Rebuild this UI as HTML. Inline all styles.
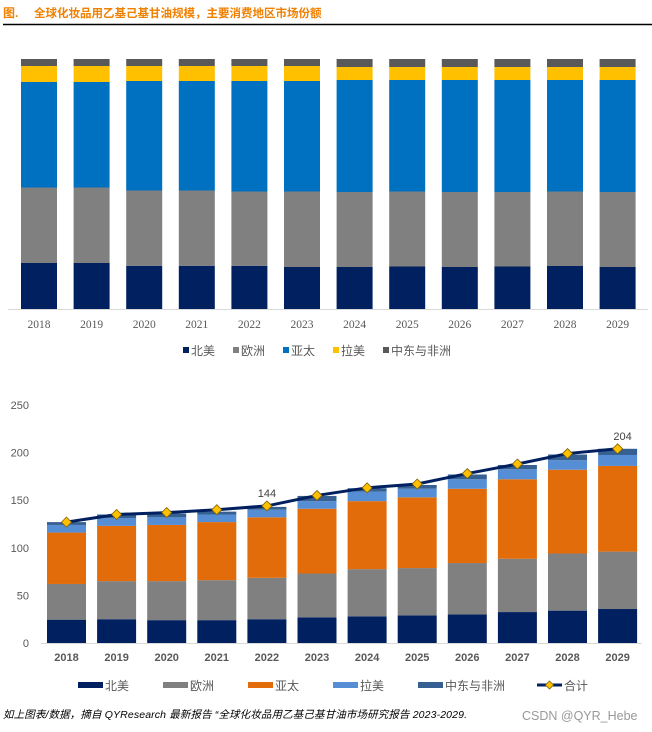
<!DOCTYPE html>
<html><head><meta charset="utf-8"><style>
body{margin:0;width:652px;height:732px;background:#fff;overflow:hidden;font-family:"Liberation Sans","Noto Sans CJK SC",sans-serif;}
svg{position:absolute;left:0;top:0}
</style></head><body>
<svg id="s" width="652" height="732">
<text x="3" y="17" font-size="12" font-weight="bold" fill="#f08000" font-family="Liberation Sans,Noto Sans CJK SC,sans-serif">图.</text>
<text x="34" y="17" font-size="11.5" font-weight="bold" fill="#f08000" font-family="Liberation Sans,Noto Sans CJK SC,sans-serif">全球化妆品用乙基己基甘油规模，主要消费地区市场份额</text>
<line x1="3" y1="24.5" x2="652" y2="24.5" stroke="#000" stroke-width="1.5"/>
<g id="topChart"></g>
<g id="botChart"></g>
<text x="3" y="718" font-size="10.5" font-style="italic" fill="#000" font-family="Liberation Sans,Noto Sans CJK SC,sans-serif" textLength="464">如上图表/数据，摘自 QYResearch 最新报告 “全球化妆品用乙基己基甘油市场研究报告 2023-2029.</text>
<text x="522" y="720" font-size="12.5" fill="#999" font-family="Liberation Sans,sans-serif">CSDN @QYR_Hebe</text>
</svg>
<script>
const years=["2018","2019","2020","2021","2022","2023","2024","2025","2026","2027","2028","2029"];
const series=["北美","欧洲","亚太","拉美","中东与非洲"];
// top chart shares (%)
const shareNA=[18.4,18.4,17.3,17.3,17.3,16.8,16.8,17.0,16.8,17.0,17.2,16.8];
const shareEU=[30.2,30.2,30.1,30.1,29.7,30.2,30.0,30.0,30.0,29.8,29.8,30.0];
const shareAP=[42.2,42.2,43.8,43.8,44.2,44.2,44.8,44.6,44.8,44.8,44.6,44.8];
const shareLA=[6.4,6.4,6.0,6.0,6.0,6.0,5.2,5.2,5.2,5.2,5.2,5.2];
const shareME=[2.8,2.8,2.8,2.8,2.8,2.8,3.2,3.2,3.2,3.2,3.2,3.2];
// bottom chart values
const valNA=[24.5,25,24,24,25,27,28,29,30,32.5,34,35.7];
const valEU=[37.5,40,41,42,43.5,46,49.6,49.7,54,56,60,60.3];
const valAP=[54,58,59,61,63.5,68,71.4,74.3,78,83.5,88,90];
const valLA=[8,8,8,8,8,8,10,9,10,10.5,10,11.5];
const valME=[3,4,4,3,3,5.5,3.6,4,5,4.5,6,6.5];
const totals=[127,135,137,140,144,155,163,167,178,188,199,204];
const yTicks=[0,50,100,150,200,250];
const colTop=["#002060","#808080","#0070c0","#ffc000","#595959"];
const colBot=["#002060","#808080","#e36c0a","#558ed5","#376092"];
const NS="http://www.w3.org/2000/svg";
function mk(p,t,a){const e=document.createElementNS(NS,t);for(const k in a)e.setAttribute(k,a[k]);p.appendChild(e);return e;}
const F='Liberation Sans,Noto Sans CJK SC,sans-serif';
// TOP
const topG=document.getElementById('topChart');
const tx=i=>39+i*52.6, ty=v=>309-v*2.5;
const shares=[shareNA,shareEU,shareAP,shareLA,shareME];
mk(topG,'line',{x1:8,y1:309.5,x2:648,y2:309.5,stroke:'#d9d9d9','stroke-width':1});
years.forEach((y,i)=>{let acc=0;const tot=shares.reduce((s,a)=>s+a[i],0);
 shares.forEach((arr,k)=>{const v=arr[i]/tot*100;
  const r=mk(topG,'rect',{x:tx(i)-18,y:ty(acc+v),width:36,height:v*2.5,fill:colTop[k]});
  
  
  acc+=v;});
 const t=mk(topG,'text',{x:tx(i),y:328,'text-anchor':'middle','font-size':11.5,fill:'#595959','font-family':'Liberation Serif,serif'});t.textContent=y;
 
 
});
const tl=[[183,'北美'],[233,'欧洲'],[283,'亚太'],[333,'拉美'],[383,'中东与非洲']];
tl.forEach((l,k)=>{const g=mk(topG,'g',{});
 
 
 mk(g,'rect',{x:l[0],y:347,width:6,height:6,fill:colTop[k]});
 const t=mk(g,'text',{x:l[0]+8,y:355,'font-size':12,fill:'#595959','font-family':F});t.textContent=l[1];});
// BOTTOM
const botG=document.getElementById('botChart');
const bx=i=>66.5+i*50.1, by=v=>643-v*0.952;
const vals=[valNA,valEU,valAP,valLA,valME];
yTicks.forEach(v=>{const t=mk(botG,'text',{x:29,y:by(v)+4,'text-anchor':'end','font-size':11,fill:'#595959','font-family':F});t.textContent=v;
 
 });
mk(botG,'line',{x1:41,y1:643.5,x2:642,y2:643.5,stroke:'#d9d9d9','stroke-width':1});
years.forEach((y,i)=>{let acc=0;
 vals.forEach((arr,k)=>{const v=arr[i];
  const r=mk(botG,'rect',{x:bx(i)-19.5,y:by(acc+v),width:39,height:v*0.952,fill:colBot[k]});
  
  
  acc+=v;});
 const t=mk(botG,'text',{x:bx(i),y:661,'text-anchor':'middle','font-size':11,'font-weight':'bold',fill:'#595959','font-family':F});t.textContent=y;
 
 
});
const pl=mk(botG,'polyline',{points:totals.map((v,i)=>bx(i)+','+by(v)).join(' '),fill:'none',stroke:'#002060','stroke-width':3});


totals.forEach((v,i)=>{const x=bx(i),y=by(v);
 const d=mk(botG,'polygon',{points:`${x},${y-5} ${x+5},${y} ${x},${y+5} ${x-5},${y}`,fill:'#ffc000',stroke:'#7f6000','stroke-width':0.8});
 
 
 if(i===4||i===11){const t=mk(botG,'text',{x:x+(i===11?5:0),y:y-9,'text-anchor':'middle','font-size':11,fill:'#404040','font-family':F});t.textContent=v;
  
  }
});
const bl=[[78,'北美'],[163,'欧洲'],[248,'亚太'],[333,'拉美'],[418,'中东与非洲']];
bl.forEach((l,k)=>{const g=mk(botG,'g',{});
 
 
 mk(g,'rect',{x:l[0],y:682,width:25,height:6,fill:colBot[k]});
 const t=mk(g,'text',{x:l[0]+27,y:690,'font-size':12,fill:'#595959','font-family':F});t.textContent=l[1];});
const lg=mk(botG,'g',{});


mk(lg,'line',{x1:537,y1:685,x2:562,y2:685,stroke:'#002060','stroke-width':3});
mk(lg,'polygon',{points:'549.5,681 553.5,685 549.5,689 545.5,685',fill:'#ffc000',stroke:'#7f6000','stroke-width':0.8});
const lt=mk(lg,'text',{x:564,y:690,'font-size':12,fill:'#595959','font-family':F});lt.textContent='合计';
</script>
</body></html>
